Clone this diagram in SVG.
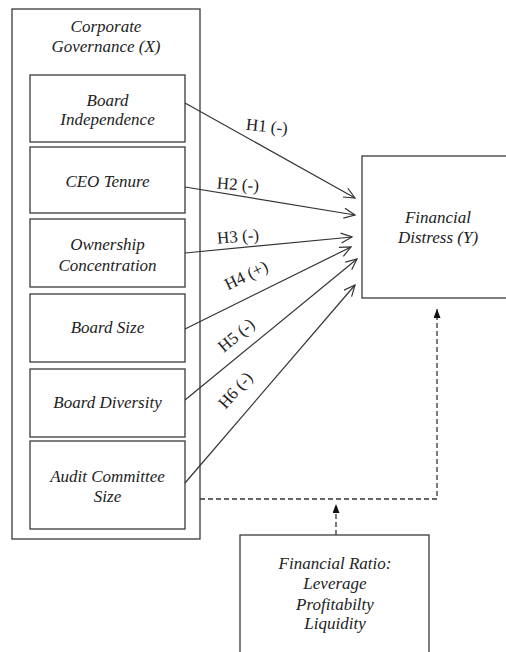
<svg xmlns="http://www.w3.org/2000/svg" width="506" height="652" viewBox="0 0 506 652">
<style>
.box{fill:#fff;stroke:#3a3a3a;stroke-width:1.3}
.t{font-family:"Liberation Serif","Times New Roman",serif;font-style:italic;font-size:17px;fill:#222;text-anchor:middle}
.lbl{font-family:"Liberation Serif","Times New Roman",serif;font-size:17px;fill:#222;text-anchor:middle}
.arr{fill:none;stroke:#333;stroke-width:1.2;marker-end:url(#open)}
.dash{fill:none;stroke:#333;stroke-width:1.3;stroke-dasharray:5,3}
</style>
<defs>
<marker id="open" markerUnits="userSpaceOnUse" markerWidth="16" markerHeight="14" refX="12" refY="6" orient="auto">
<path d="M1,1 L12,6 L1,11" fill="none" stroke="#333" stroke-width="1.2"/>
</marker>
<marker id="solid" markerUnits="userSpaceOnUse" markerWidth="12" markerHeight="10" refX="9" refY="3.5" orient="auto">
<path d="M0,0 L9,3.5 L0,7 z" fill="#111"/>
</marker>
</defs>
<g id="corporate-governance">
<rect class="box" x="12" y="9" width="188" height="530"/>
<text class="t" x="106" y="32">Corporate</text>
<text class="t" x="106" y="52">Governance (X)</text>
</g>
<g id="board-independence">
<rect class="box" x="30" y="75" width="155" height="67"/>
<text class="t" x="107.5" y="106">Board</text>
<text class="t" x="107.5" y="125">Independence</text>
</g>
<g id="ceo-tenure">
<rect class="box" x="30" y="147" width="155" height="66"/>
<text class="t" x="107.5" y="187">CEO Tenure</text>
</g>
<g id="ownership-concentration">
<rect class="box" x="30" y="219" width="155" height="68"/>
<text class="t" x="107.5" y="250">Ownership</text>
<text class="t" x="107.5" y="271">Concentration</text>
</g>
<g id="board-size">
<rect class="box" x="30" y="294" width="155" height="68"/>
<text class="t" x="107.5" y="333">Board Size</text>
</g>
<g id="board-diversity">
<rect class="box" x="30" y="369" width="155" height="68"/>
<text class="t" x="107.5" y="408">Board Diversity</text>
</g>
<g id="audit-committee-size">
<rect class="box" x="30" y="441" width="155" height="88"/>
<text class="t" x="107.5" y="482">Audit Committee</text>
<text class="t" x="107.5" y="502">Size</text>
</g>
<g id="financial-distress">
<rect class="box" x="362" y="156" width="152" height="142"/>
<text class="t" x="438" y="223">Financial</text>
<text class="t" x="438" y="243">Distress (Y)</text>
</g>
<g id="financial-ratio">
<rect class="box" x="240" y="535" width="189" height="130"/>
<text class="t" x="335" y="569">Financial Ratio:</text>
<text class="t" x="335" y="589">Leverage</text>
<text class="t" x="335" y="610">Profitabilty</text>
<text class="t" x="335" y="629">Liquidity</text>
</g>
<g id="connectors">
<line class="arr" x1="185" y1="103" x2="355" y2="198"/>
<line class="arr" x1="185" y1="187" x2="355" y2="215"/>
<line class="arr" x1="185" y1="253" x2="352" y2="237"/>
<line class="arr" x1="185" y1="329" x2="351" y2="247"/>
<line class="arr" x1="185" y1="400" x2="357" y2="259"/>
<line class="arr" x1="185" y1="483" x2="355" y2="285"/>
<polyline class="dash" points="200,499 437,499 437,309" marker-end="url(#solid)"/>
<line class="dash" x1="336" y1="535" x2="336" y2="504" marker-end="url(#solid)"/>
<text class="lbl" x="267" y="132" transform="rotate(6 267 126)">H1 (-)</text>
<text class="lbl" x="238" y="190" transform="rotate(4 238 184)">H2 (-)</text>
<text class="lbl" x="238" y="242" transform="rotate(-5 238 236)">H3 (-)</text>
<text class="lbl" x="246" y="281" transform="rotate(-26 246 275)">H4 (+)</text>
<text class="lbl" x="236" y="341" transform="rotate(-40 236 335)">H5 (-)</text>
<text class="lbl" x="235" y="396" transform="rotate(-48 235 390)">H6 (-)</text>
</g>
</svg>
